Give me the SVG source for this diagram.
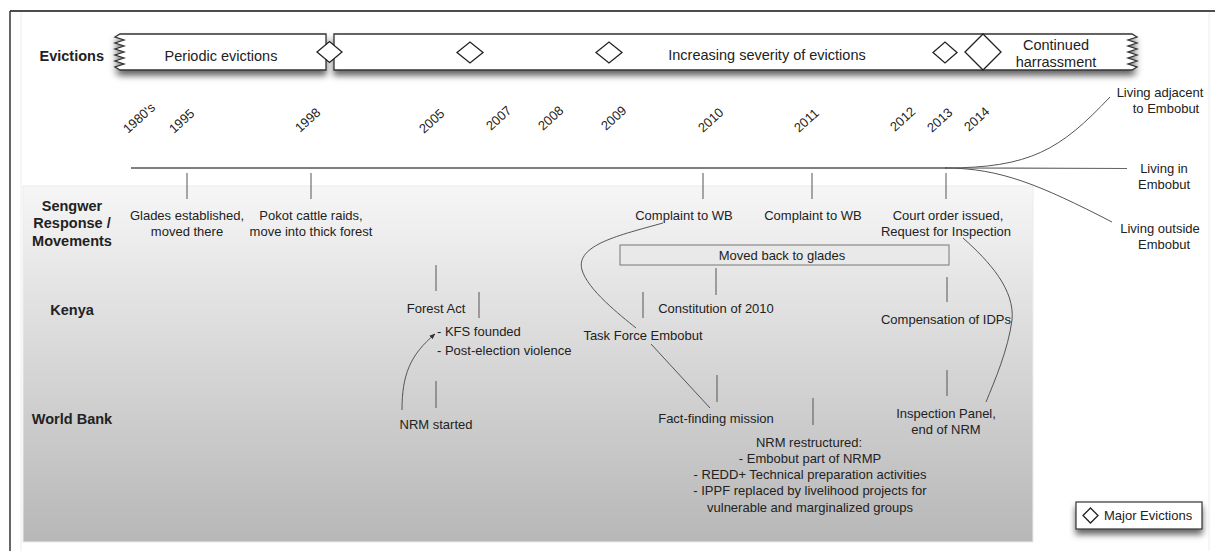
<svg xmlns="http://www.w3.org/2000/svg" width="1215" height="551" viewBox="0 0 1215 551">
<defs>
<style>
.t{font-family:"Liberation Sans",Arial,sans-serif;font-size:13px;fill:#222}
.c{text-anchor:middle}
.b{font-weight:bold;font-size:14.5px}
.band{font-size:14.5px}
.tick{stroke:#555;stroke-width:1}
.conn{fill:none;stroke:#555;stroke-width:1}
.box{fill:#fff;stroke:#333;stroke-width:1.3}
.dia{fill:#fff;stroke:#222;stroke-width:1.3}
</style>
<linearGradient id="shade" x1="0" y1="0" x2="0" y2="1">
<stop offset="0" stop-color="#f6f6f6"/>
<stop offset="1" stop-color="#b7b7b7"/>
</linearGradient>
<filter id="sh" x="-5%" y="-30%" width="110%" height="180%">
<feDropShadow dx="0" dy="5" stdDeviation="3" flood-color="#000" flood-opacity="0.6"/>
</filter>
<marker id="arr" viewBox="0 0 10 10" refX="9" refY="5" markerWidth="6" markerHeight="6" orient="auto">
<path d="M0,1 L10,5 L0,9 Z" fill="#333"/>
</marker>
</defs>

<g id="frame">
<line x1="10" y1="11" x2="1215" y2="11" stroke="#111" stroke-width="1.5"/>
<line x1="10" y1="11" x2="10" y2="551" stroke="#333" stroke-width="1.5"/>
<line x1="21" y1="12" x2="21" y2="551" stroke="#ececec" stroke-width="1"/>
<line x1="1209" y1="12" x2="1209" y2="551" stroke="#ececec" stroke-width="1"/>
</g>

<rect id="shaded-area" x="23" y="186" width="1010" height="356" fill="url(#shade)" stroke="#ececec" stroke-width="1"/>

<g id="evictions-band">
<text class="t b" x="104" y="61" text-anchor="end">Evictions</text>
<path class="box" filter="url(#sh)" d="M326,34 H120 L115,37 L124,40 L115,43 L124,46 L115,49 L124,52 L115,55 L124,58 L115,61 L124,64 L115,67 L120,70 H326 Z"/>
<path class="box" filter="url(#sh)" d="M334,34 H1132 L1137,37 L1128,40 L1137,43 L1128,46 L1137,49 L1128,52 L1137,55 L1128,58 L1137,61 L1128,64 L1137,67 L1132,70 H334 Z"/>
<text class="t band c" x="221" y="61">Periodic evictions</text>
<text class="t band c" x="767" y="60">Increasing severity of evictions</text>
<text class="t band c" x="1056" y="50">Continued</text>
<text class="t band c" x="1056" y="67">harrassment</text>
<polygon class="dia" points="317,52 329.5,41.5 342,52 329.5,62.5"/>
<polygon class="dia" points="457,52.5 470,42 483,52.5 470,63"/>
<polygon class="dia" points="596,52.5 609,42 622,52.5 609,63"/>
<polygon class="dia" points="933,52.5 945,42 957,52.5 945,63"/>
<polygon class="dia" points="965,52 983,34 1001,52 983,70"/>
</g>

<g id="row-labels">
<text class="t b c" x="72" y="211">Sengwer</text>
<text class="t b c" x="72" y="228">Response /</text>
<text class="t b c" x="72" y="246">Movements</text>
<text class="t b c" x="72" y="315">Kenya</text>
<text class="t b c" x="72" y="424">World Bank</text>
</g>

<g id="years">
<text class="t" x="128" y="134" transform="rotate(-42 128 134)">1980's</text>
<text class="t" x="174" y="134" transform="rotate(-42 174 134)">1995</text>
<text class="t" x="300" y="133" transform="rotate(-42 300 133)">1998</text>
<text class="t" x="424" y="134" transform="rotate(-42 424 134)">2005</text>
<text class="t" x="491" y="131" transform="rotate(-42 491 131)">2007</text>
<text class="t" x="543" y="131" transform="rotate(-42 543 131)">2008</text>
<text class="t" x="606" y="131" transform="rotate(-42 606 131)">2009</text>
<text class="t" x="703" y="133" transform="rotate(-42 703 133)">2010</text>
<text class="t" x="799" y="133" transform="rotate(-42 799 133)">2011</text>
<text class="t" x="895" y="132" transform="rotate(-42 895 132)">2012</text>
<text class="t" x="932" y="133" transform="rotate(-42 932 133)">2013</text>
<text class="t" x="969" y="132" transform="rotate(-42 969 132)">2014</text>
</g>

<g id="timeline">
<line x1="131" y1="168" x2="947" y2="168" stroke="#555" stroke-width="1.5"/>
<path class="conn" d="M945,168 C1030,168 1060,150 1110,97"/>
<line x1="945" y1="168" x2="1127" y2="168.5" stroke="#666" stroke-width="1.2"/>
<path class="conn" d="M945,168 C1000,168 1040,185 1112,222"/>
</g>

<g id="branch-labels">
<text class="t c" x="1160" y="97">Living adjacent</text>
<text class="t c" x="1166" y="113">to Embobut</text>
<text class="t c" x="1164" y="173">Living in</text>
<text class="t c" x="1164" y="189">Embobut</text>
<text class="t c" x="1160" y="233">Living outside</text>
<text class="t c" x="1164" y="249">Embobut</text>
</g>

<g id="sengwer-events">
<g id="ev-1995"><line class="tick" x1="187" y1="173" x2="187" y2="199"/>
<text class="t c" x="187" y="220">Glades established,</text><text class="t c" x="187" y="236">moved there</text></g>
<g id="ev-1998"><line class="tick" x1="311" y1="173" x2="311" y2="199"/>
<text class="t c" x="311" y="220">Pokot cattle raids,</text><text class="t c" x="311" y="236">move into thick forest</text></g>
<g id="ev-2010s"><line class="tick" x1="703" y1="173" x2="703" y2="199"/>
<text class="t c" x="684" y="220">Complaint to WB</text></g>
<g id="ev-2011s"><line class="tick" x1="812" y1="173" x2="812" y2="199"/>
<text class="t c" x="813" y="220">Complaint to WB</text></g>
<g id="ev-2013s"><line class="tick" x1="946" y1="173" x2="946" y2="199"/>
<text class="t c" x="948" y="220">Court order issued,</text><text class="t c" x="946" y="236">Request for Inspection</text></g>
<g id="ev-glades"><rect x="620" y="245" width="329" height="20" fill="#e9e9e9" stroke="#777" stroke-width="1"/>
<text class="t c" x="782" y="260">Moved back to glades</text></g>
</g>

<g id="kenya-events">
<g id="k-2005"><line class="tick" x1="436" y1="265" x2="436" y2="291"/>
<text class="t c" x="436" y="313">Forest Act</text></g>
<g id="k-2007"><line class="tick" x1="479" y1="292" x2="479" y2="318"/>
<text class="t" x="437" y="336">- KFS founded</text><text class="t" x="437" y="355">- Post-election violence</text></g>
<g id="k-2009"><line class="tick" x1="643" y1="292" x2="643" y2="318"/>
<text class="t c" x="643" y="340">Task Force Embobut</text></g>
<g id="k-2010"><line class="tick" x1="716" y1="268" x2="716" y2="295"/>
<text class="t c" x="716" y="313">Constitution of 2010</text></g>
<g id="k-2013"><line class="tick" x1="947" y1="277" x2="947" y2="302"/>
<text class="t c" x="946" y="324">Compensation of IDPs</text></g>
</g>

<g id="worldbank-events">
<g id="w-2005"><line class="tick" x1="436" y1="381" x2="436" y2="408"/>
<text class="t c" x="436" y="429">NRM started</text></g>
<g id="w-2010"><line class="tick" x1="717" y1="375" x2="717" y2="402"/>
<text class="t c" x="716" y="423">Fact-finding mission</text></g>
<g id="w-2011"><line class="tick" x1="813" y1="398" x2="813" y2="425"/>
<text class="t c" x="809" y="447">NRM restructured:</text>
<text class="t c" x="810" y="463">- Embobut part of NRMP</text>
<text class="t c" x="810" y="479">- REDD+ Technical preparation activities</text>
<text class="t c" x="810" y="495">- IPPF replaced by livelihood projects for</text>
<text class="t c" x="810" y="512">vulnerable and marginalized groups</text></g>
<g id="w-2013"><line class="tick" x1="947" y1="370" x2="947" y2="396"/>
<text class="t c" x="946" y="418">Inspection Panel,</text><text class="t c" x="946" y="434">end of NRM</text></g>
</g>

<g id="connectors">
<path class="conn" d="M402,410 C402,375 410,355 435,334" marker-end="url(#arr)"/>
<path class="conn" d="M663,223 C620,235 575,245 582,270 C588,290 620,315 636,328"/>
<path class="conn" d="M651,344 L710,408"/>
<path class="conn" d="M963,238 C990,262 1015,290 1012,320 C1008,350 995,380 986,402"/>
</g>

<g id="legend">
<rect x="1076" y="502" width="126" height="27" fill="#fff" stroke="#333" stroke-width="1.2" filter="url(#sh)"/>
<polygon class="dia" points="1083,515.5 1090.5,508 1098,515.5 1090.5,523"/>
<text class="t" x="1104" y="520">Major Evictions</text>
</g>
</svg>
